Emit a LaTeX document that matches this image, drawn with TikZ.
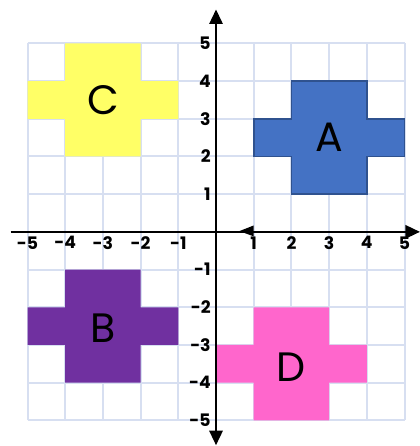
\documentclass[tikz,border=0pt]{standalone}
\usepackage{fontspec}
\setmainfont{Poppins}
\usepackage{tikz}
\usetikzlibrary{arrows.meta,positioning,calc}

\definecolor{gridblue}{HTML}{D7DFF1}
\definecolor{shapeA}{HTML}{4472C4}
\definecolor{edgeA}{HTML}{2F528F}
\definecolor{shapeB}{HTML}{7030A0}
\definecolor{shapeC}{HTML}{FFFF66}
\definecolor{shapeD}{HTML}{FF66CC}

\tikzset{
    axis/.style={line width=1.7pt, -{Triangle[length=11pt,width=10pt]}},
    twoway/.style={line width=1.7pt, {Triangle[length=11pt,width=10pt]}-{Triangle[length=11pt,width=10pt]}},
    tick/.style={font=\bfseries\fontsize{13}{13}\selectfont, inner sep=1pt},
    letter/.style={font=\fontsize{31}{31}\selectfont, inner sep=0pt}
}

\begin{document}
\begin{tikzpicture}
    \useasboundingbox (-5.73,-5.68) rectangle (5.41,6.15);

    % Grid
    \draw[gridblue, line width=1.5pt] (-5,-5) grid (5,5);

    % Shapes
    \fill[shapeC] (-4,2) -- ++(2,0) -- ++(0,1) -- ++(1,0) -- ++(0,1) -- ++(-1,0) -- ++(0,1)
        -- ++(-2,0) -- ++(0,-1) -- ++(-1,0) -- ++(0,-1) -- ++(1,0) -- cycle;
    \fill[shapeB] (-4,-4) -- ++(2,0) -- ++(0,1) -- ++(1,0) -- ++(0,1) -- ++(-1,0) -- ++(0,1)
        -- ++(-2,0) -- ++(0,-1) -- ++(-1,0) -- ++(0,-1) -- ++(1,0) -- cycle;
    \fill[shapeD] (1,-5) -- ++(2,0) -- ++(0,1) -- ++(1,0) -- ++(0,1) -- ++(-1,0) -- ++(0,1)
        -- ++(-2,0) -- ++(0,-1) -- ++(-1,0) -- ++(0,-1) -- ++(1,0) -- cycle;
    \filldraw[fill=shapeA, draw=edgeA, line width=1.2pt] (2,1) -- ++(2,0) -- ++(0,1) -- ++(1,0)
        -- ++(0,1) -- ++(-1,0) -- ++(0,1) -- ++(-2,0) -- ++(0,-1) -- ++(-1,0) -- ++(0,-1)
        -- ++(1,0) -- cycle;

    % Letters
    \node[letter] (A) at (3,2.5) {A};
    \node[letter] (B) at (-3,-2.55) {B};
    \node[letter] (C) at (-3,3.5) {C};
    \node[letter] (D) at (2,-3.6) {D};

    % Axes
    \coordinate (xstart) at (-5.45,0);
    \coordinate (xend) at (5.41,0);
    \coordinate (ystart) at (0,-5.66);
    \coordinate (yend) at (0,5.9);
    \draw[axis] (xstart) -- (xend);
    \draw[twoway] (ystart) -- (yend);
    \fill (0.62,0.02) -- (1.0,0.17) -- (1.0,-0.12) -- cycle; % stray tip

    % Tick labels
    \foreach \i in {-5,...,-1,1,2,...,5} {
        \node[tick, anchor=north] (x\i) at (\i,-0.08) {\i};
        \node[tick, anchor=east] (y\i) at (-0.1,\i) {\i};
    }
\end{tikzpicture}
\end{document}
